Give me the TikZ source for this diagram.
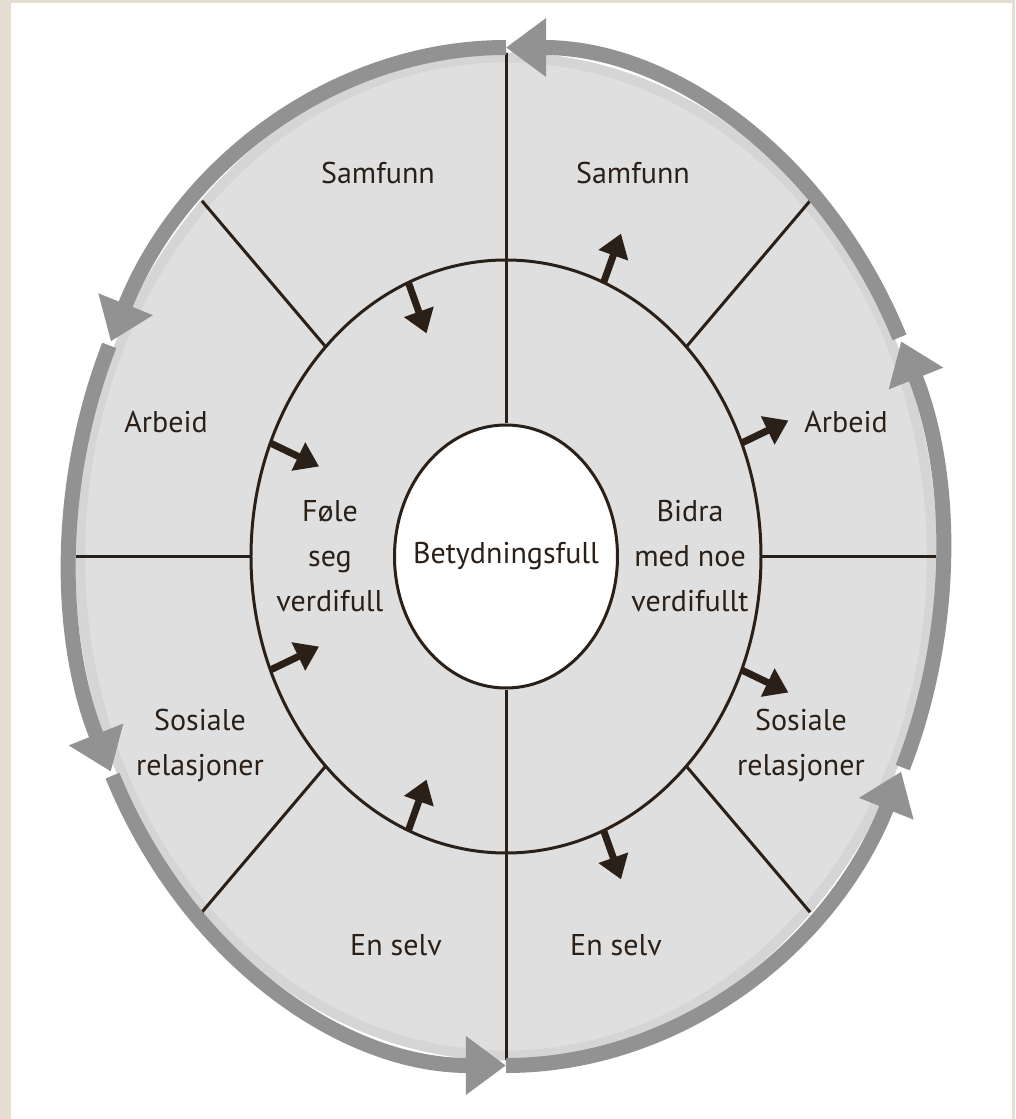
\documentclass[tikz,border=0pt]{standalone}
\usepackage{fontspec}
\setmainfont{PT Sans}
\usetikzlibrary{positioning,shapes,arrows.meta,calc}

\definecolor{ink}{RGB}{43,32,24}
\definecolor{ringgray}{RGB}{146,146,146}
\definecolor{sector}{RGB}{223,223,223}
\definecolor{sectoredge}{RGB}{213,213,213}
\definecolor{framecol}{RGB}{227,221,210}

\begin{document}
\begin{tikzpicture}[
  x=1pt, y=1pt,
  mytext/.style={text=ink, align=center, inner sep=0pt, font=\fontsize{30}{45}\selectfont},
  ring/.style={draw=ringgray, line width=15pt, -{Triangle[length=40pt,width=56pt]}},
  spoke/.style={draw=ink, line width=3pt},
  push/.style={draw=ink, line width=7pt, -{Triangle[length=23pt,width=30pt]}}]
% frame
\fill[framecol] (-506,-562.5) rectangle (509,556.5);
\fill[white] (-495,-562.5) rectangle (506,553.5);
\useasboundingbox (-506,-562.5) rectangle (509,556.5);

\coordinate (O) at (0,0);
\fill[sector] (O) ellipse [x radius=431pt, y radius=504pt];
\draw[sectoredge, line width=10pt] (O) ellipse [x radius=426pt, y radius=499pt];

\foreach \t in {0,45,...,315} {
  \coordinate (m\t) at (\t:255pt and 296.5pt);
  \coordinate (o\t) at (\t:430pt and 503pt);
}

% spokes and middle ring
\foreach \t in {0,45,135,180,225,315}
  \draw[spoke] (m\t) -- (o\t);
\draw[spoke] (O) ellipse [x radius=255pt, y radius=296.5pt];

\node[ellipse, draw=ink, line width=3pt, fill=white, inner sep=0pt,
  minimum width=223pt, minimum height=263pt] (core) at (O) {};
\draw[spoke] (core.north) -- (o90);
\draw[spoke] (core.south) -- (o270);

% outer ring
\foreach \a/\b in {90/155,155.5/205,205.5/270,270/335,335.5/385,385.5/450}
  \draw[ring] (\a:436pt and 509pt) arc[start angle=\a, end angle=\b, x radius=436pt, y radius=509pt];

% small arrows
\foreach \t in {112.5,157.5,202.5,247.5} {
  \coordinate (p) at (\t:255pt and 296.5pt);
  \draw[push] (p) -- ($(p)!54pt!(O)$);
}
\foreach \t in {67.5,22.5,-22.5,-67.5} {
  \coordinate (p) at (\t:255pt and 296.5pt);
  \draw[push] (p) -- ($(p)!-52pt!(O)$);
}

\node[mytext] (mid) at (core) {Betydningsfull};
\node[mytext] (feel) at (-176,0) {Føle\\seg\\verdifull};
\node[mytext] (give) at (184,0) {Bidra\\med noe\\verdifullt};

\node[mytext] (samL) at (-128,383.5) {Samfunn};
\node[mytext] (samR) at (127,383.5) {Samfunn};
\node[mytext] (arbL) at (-340,134.5) {Arbeid};
\node[mytext] (arbR) at (340,134.5) {Arbeid};
\node[mytext] (sosL) at (-306,-188.5) {Sosiale\\relasjoner};
\node[mytext] (sosR) at (295,-188.5) {Sosiale\\relasjoner};
\node[mytext] (selvL) at (-110,-388.5) {En selv};
\node[mytext] (selvR) at (110,-388.5) {En selv};
\end{tikzpicture}
\end{document}
